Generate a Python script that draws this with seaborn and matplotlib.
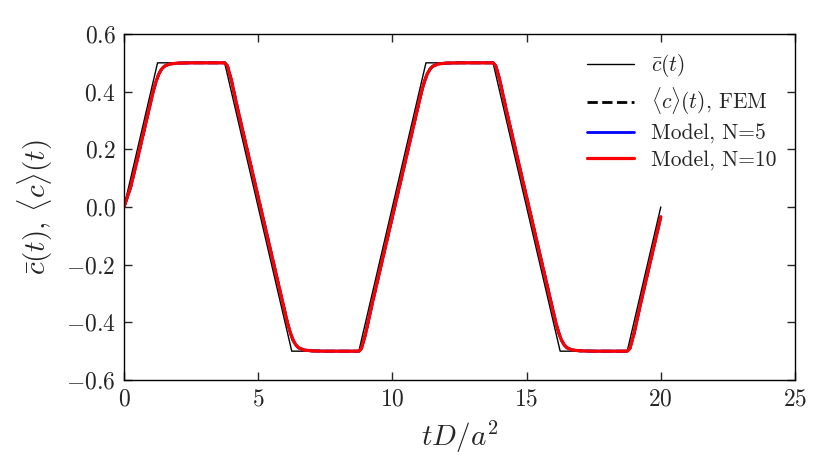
import seaborn as sns
import matplotlib
matplotlib.use("Agg")
import matplotlib.pyplot as plt

# ideal square-ish wave c-bar(t)
t_bar = [0, 1.25, 3.75, 6.25, 8.75, 11.25, 13.75, 16.25, 18.75, 20]
c_bar = [0, 0.5, 0.5, -0.5, -0.5, 0.5, 0.5, -0.5, -0.5, 0]

# model / FEM response
t_model = [0, 0.25, 0.5, 1.0, 1.1, 1.2, 1.3, 1.4, 1.5, 1.7, 2.0, 2.5, 3.0, 3.75,
           3.85, 4.0, 4.25, 4.5, 5.0, 5.5, 6.0, 6.1, 6.2, 6.3, 6.4, 6.5, 6.7, 7.0, 7.5, 8.0, 8.75,
           8.85, 9.0, 9.25, 9.5, 10.0, 10.5, 11.0, 11.1, 11.2, 11.3, 11.4, 11.5, 11.7, 12.0, 12.5, 13.0, 13.75,
           13.85, 14.0, 14.25, 14.5, 15.0, 15.5, 16.0, 16.1, 16.2, 16.3, 16.4, 16.5, 16.7, 17.0, 17.5, 18.0, 18.75,
           18.85, 19.0, 19.25, 19.5, 20.0]
c_model = [0.0, 0.07, 0.166, 0.366, 0.405, 0.437, 0.462, 0.478, 0.488, 0.496, 0.499, 0.5, 0.5, 0.5,
           0.49, 0.44, 0.334, 0.234, 0.034, -0.166, -0.366, -0.405, -0.437, -0.462, -0.478, -0.488, -0.496, -0.499, -0.5, -0.5, -0.5,
           -0.49, -0.44, -0.334, -0.234, -0.034, 0.166, 0.366, 0.405, 0.437, 0.462, 0.478, 0.488, 0.496, 0.499, 0.5, 0.5, 0.5,
           0.49, 0.44, 0.334, 0.234, 0.034, -0.166, -0.366, -0.405, -0.437, -0.462, -0.478, -0.488, -0.496, -0.499, -0.5, -0.5, -0.5,
           -0.49, -0.44, -0.334, -0.234, -0.034]
c_fem = c_model
c_n5 = c_model

sns.set_style("white")
plt.rcParams['font.family'] = ['cmr10']
plt.rcParams['mathtext.fontset'] = 'cm'
plt.rcParams['axes.formatter.use_mathtext'] = True
plt.rcParams['axes.unicode_minus'] = True

fig = plt.figure(figsize=(8.3, 4.75), dpi=100)
ax = fig.add_axes([124 / 830, 1 - 380 / 475, 671 / 830, 346 / 475])

sns.lineplot(x=t_bar, y=c_bar, ax=ax, color='black', lw=1.0, label=r'$\bar{c}(t)$')
sns.lineplot(x=t_model, y=c_fem, ax=ax, color='black', lw=2.0, linestyle='--',
             label=r'$\langle c\rangle(t)$, FEM')
sns.lineplot(x=t_model, y=c_n5, ax=ax, color='blue', lw=2.0, label='Model, N=5')
sns.lineplot(x=t_model, y=c_model, ax=ax, color='red', lw=2.3, label='Model, N=10')

ax.set_xlim(0, 25)
ax.set_ylim(-0.6, 0.6)
ax.set_xticks([0, 5, 10, 15, 20, 25])
ax.set_yticks([-0.6, -0.4, -0.2, 0.0, 0.2, 0.4, 0.6])
ax.set_yticklabels(['$-0.6$', '$-0.4$', '$-0.2$', '$0.0$', '$0.2$', '$0.4$', '$0.6$'])
ax.set_xticklabels(['$0$', '$5$', '$10$', '$15$', '$20$', '$25$'])
ax.tick_params(direction='in', length=6, width=1, top=True, right=True, labelsize=17, pad=6,
               bottom=True, left=True)
for sp in ax.spines.values():
    sp.set_color('black')
    sp.set_linewidth(1.0)

ax.set_xlabel(r'$tD/a^2$', fontsize=21, labelpad=6)
ax.set_ylabel(r'$\bar{c}(t),\,\langle c\rangle(t)$', fontsize=21, labelpad=8)

ax.legend(loc='upper right', frameon=False, fontsize=15.5, handlelength=2.2,
          handletextpad=0.8, borderaxespad=0.45, labelspacing=0.3)

fig.savefig("out.png", dpi=100)
